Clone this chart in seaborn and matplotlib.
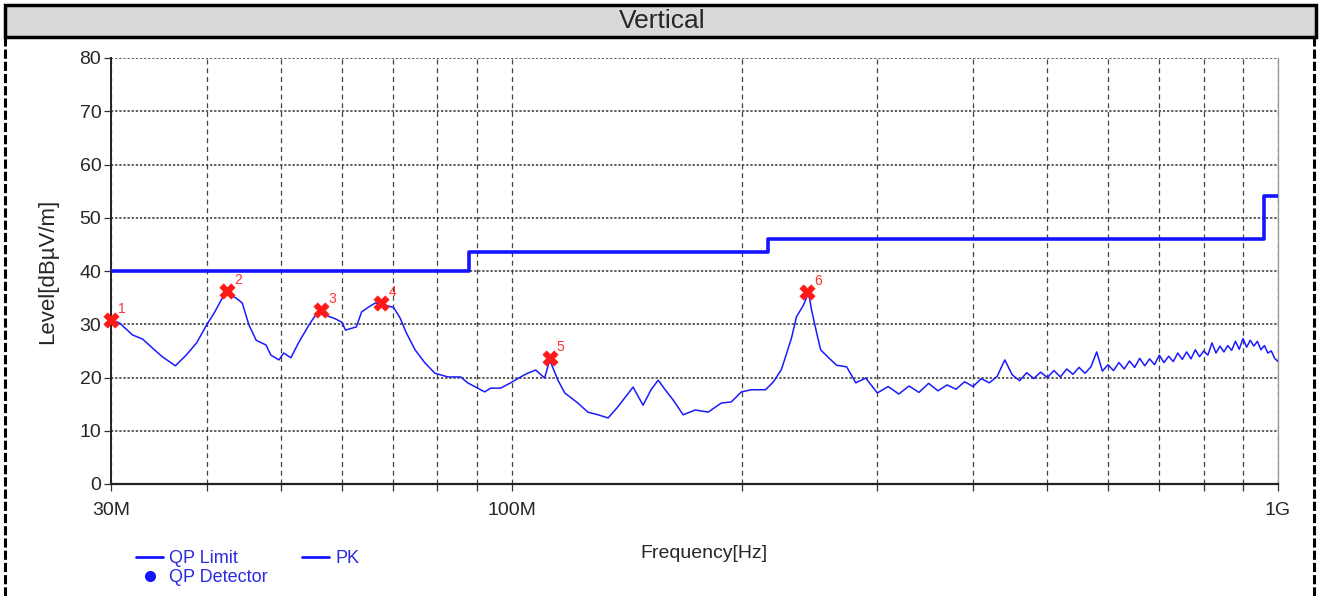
import numpy as np
import pandas as pd
import matplotlib
matplotlib.use('Agg')
import matplotlib.pyplot as plt
from matplotlib import font_manager
from matplotlib.lines import Line2D
from matplotlib.patches import Rectangle
import seaborn as sns

# PK trace, frequency in MHz and level in dBuV/m
pk_freq = [30.1, 30.8, 32.0, 33.0, 34.0, 35.0, 36.4, 37.6, 38.8, 40.0,
           40.9, 41.9, 42.5, 43.7, 44.5, 45.4, 46.4, 47.8, 48.5, 49.7,
           50.4, 51.5, 52.7, 54.4, 55.7, 57.2, 58.9, 60.0, 60.7, 62.7,
           63.7, 65.0, 66.4, 68.0, 70.1, 71.5, 72.8, 74.8, 77.1, 79.4,
           82.6, 85.8, 87.6, 90.3, 92.2, 93.9, 96.7, 99.7, 102.7, 104.9,
           107.5, 110.4, 112.1, 114.9, 117.3, 122.0, 125.7, 129.6, 133.6, 137.6,
           144.0, 148.4, 152.0, 155.3, 158.6, 162.4, 167.4, 173.6, 180.5, 187.7,
           193.4, 199.4, 205.5, 214.4, 219.6, 224.9, 231.8, 235.3, 240.3, 244.0,
           246.2, 250.0, 253.0, 259.2, 265.5, 273.6, 281.2, 289.7,
           300, 310, 320, 330, 340, 350, 360, 370, 380, 390,
           400, 410, 420, 430, 440, 450, 460, 470, 480, 490,
           500, 510, 520, 530, 540, 550, 560, 570, 580, 590,
           600, 610, 620, 630, 640, 650, 660, 670, 680, 690,
           700, 710, 720, 730, 740, 750, 760, 770, 780, 790,
           800, 810, 820, 830, 840, 850, 860, 870, 880, 890,
           900, 910, 920, 930, 940, 950, 960, 970, 980, 990,
           1000]
pk_level = [30.8, 30.2, 28.0, 27.2, 25.5, 23.9, 22.2, 24.2, 26.5, 29.9,
            32.1, 34.9, 35.9, 34.9, 34.0, 29.9, 27.0, 26.1, 24.2, 23.3,
            24.6, 23.7, 26.5, 29.9, 32.1, 31.7, 31.0, 30.4, 28.9, 29.5,
            32.3, 33.2, 34.0, 33.6, 33.2, 31.2, 28.5, 25.2, 22.7, 20.8,
            20.1, 20.1, 19.0, 18.0, 17.3, 18.0, 18.0, 19.0, 20.1, 20.8,
            21.4, 19.9, 23.3, 19.5, 17.1, 15.2, 13.5, 13.0, 12.4, 14.5,
            18.2, 14.8, 17.7, 19.5, 17.7, 15.8, 13.0, 13.9, 13.5, 15.2,
            15.4, 17.3, 17.7, 17.7, 19.2, 21.5, 27.4, 31.4, 33.6, 35.9,
            32.7, 28.4, 25.2, 23.7, 22.3, 22.0, 19.0, 19.9,
            17.1, 18.3, 16.9, 18.4, 17.2, 18.9, 17.5, 18.6, 17.8, 19.2,
            18.3, 19.8, 19.0, 20.2, 23.3, 20.5, 19.4, 20.9, 19.8, 21.0,
            20.0, 21.3, 20.1, 21.6, 20.6, 21.9, 20.8, 22.0, 24.8, 21.2,
            22.4, 21.3, 22.8, 21.6, 23.1, 21.9, 23.6, 22.2, 23.5, 22.4,
            24.2, 22.8, 24.0, 23.0, 24.6, 23.4, 24.8, 23.5, 25.2, 23.9,
            25.0, 24.2, 26.5, 24.6, 25.9, 24.8, 26.0, 25.1, 26.8, 25.3,
            27.3, 25.7, 27.0, 25.9, 26.8, 25.2, 26.0, 24.6, 25.0, 23.6,
            23.0]

# QP limit (FCC class B, 3 m)
limit_edges = [30, 88, 216, 960, 1000]
limit_levels = [40.0, 43.5, 46.0, 54.0, 54.0]

# marked peaks
peak_no = ['1', '2', '3', '4', '5', '6']
peak_freq = [30.0, 42.5, 56.4, 67.6, 112.1, 243.0]
peak_level = [30.8, 36.2, 32.7, 34.0, 23.7, 36.1]

W, H = 1324, 596
sns.set_style('white')
plt.rcParams['font.family'] = ['Liberation Sans', 'DejaVu Sans']

have_narrow = any(f.name == 'Liberation Sans Narrow' for f in font_manager.fontManager.ttflist)
if have_narrow:
    txt_font = ['Liberation Sans Narrow', 'DejaVu Sans']
    tick_fs, lab_fs, ylab_fs, leg_fs = 17, 17, 19, 16
else:
    txt_font = ['Liberation Sans', 'DejaVu Sans']
    tick_fs, lab_fs, ylab_fs, leg_fs = 14, 14, 16, 13

fig = plt.figure(figsize=(W / 100, H / 100), dpi=100)
ax = fig.add_axes([111 / W, 1 - 484 / H, (1278 - 111) / W, (484 - 58) / H])

trace = pd.DataFrame({'f': pk_freq, 'lvl': pk_level})
sns.lineplot(data=trace, x='f', y='lvl', ax=ax, color='#1a1aff', lw=1.1,
             estimator=None, sort=False, zorder=3)
sns.lineplot(x=limit_edges, y=limit_levels, ax=ax, color='#1414ff', lw=2.6,
             drawstyle='steps-post', estimator=None, sort=False, zorder=4)
sns.scatterplot(x=peak_freq, y=peak_level, ax=ax, marker='X', s=120,
                color='#ff1a1a', edgecolor='#ff1a1a', linewidth=0.5, zorder=6,
                clip_on=False)
for n, f, l in zip(peak_no, peak_freq, peak_level):
    ax.annotate(n, (f, l), xytext=(5, 3), textcoords='offset points',
                color='#ff3030', fontsize=10, ha='left', va='bottom', zorder=7,
                family=txt_font)

ax.set_xscale('log')
ax.set_xlim(30, 1000)
ax.set_ylim(0, 80)
ax.set_xticks([30, 100, 1000])
ax.set_xticklabels(['30M', '100M', '1G'])
ax.set_xticks([40, 50, 60, 70, 80, 90, 200, 300, 400, 500, 600, 700, 800, 900], minor=True)
ax.xaxis.set_minor_formatter(matplotlib.ticker.NullFormatter())
ax.set_yticks(range(0, 81, 10))

ax.grid(True, which='both', axis='x', color='#444444', ls=(0, (4, 3)), lw=0.9)
ax.grid(True, which='major', axis='y', color='#333333', ls=(0, (1.5, 1.2)), lw=1.1)
ax.tick_params(axis='x', which='both', direction='out', length=5, width=0.9,
               color='#333333', pad=8, labelsize=tick_fs, bottom=True)
ax.tick_params(axis='y', direction='out', length=5, width=0.9, color='#333333',
               pad=2, labelsize=tick_fs, left=True)
for t in ax.get_xticklabels() + ax.get_yticklabels():
    t.set_family(txt_font)

ax.spines['top'].set_visible(False)
ax.spines['right'].set_color('#999999')
ax.spines['right'].set_linewidth(1.0)
ax.spines['left'].set_color('#222222')
ax.spines['bottom'].set_color('#222222')
ax.spines['left'].set_linewidth(1.4)
ax.spines['bottom'].set_linewidth(1.6)

ax.set_xlabel('Frequency[Hz]', fontsize=lab_fs, family=txt_font)
ax.set_ylabel('Level[dBµV/m]', fontsize=ylab_fs, family=txt_font)
ax.xaxis.set_label_coords(0.508, -0.143)
ax.yaxis.set_label_coords(-0.045, 0.5)

# legend below the plot
handles = [Line2D([], [], color='#1414ff', lw=2),
           Line2D([], [], color='#1414ff', marker='o', ls='none', ms=7),
           Line2D([], [], color='#1414ff', lw=2)]
leg = fig.legend(handles, ['QP Limit', 'QP Detector', 'PK'], ncol=2,
                 loc='upper left', bbox_to_anchor=(127 / W, 1 - 541 / H),
                 frameon=False, labelcolor='#2a2ae0',
                 prop={'family': txt_font, 'size': leg_fs},
                 handlelength=1.5, handletextpad=0.35, columnspacing=1.9,
                 labelspacing=0.1, borderpad=0)

# title band and page frame
fig.patches.append(Rectangle((5 / W, 1 - 37 / H), (1316 - 5) / W, 32 / H,
                             transform=fig.transFigure, facecolor='#d9d9d9',
                             edgecolor='black', lw=2.5, zorder=0))
fig.text(662 / W, 1 - 21 / H, 'Vertical', ha='center', va='center', fontsize=19)
fig.add_artist(Line2D([5 / W, 5 / W], [0, 1 - 37 / H], transform=fig.transFigure,
                      color='black', lw=2.2, ls=(0, (3, 1))))
fig.add_artist(Line2D([1314 / W, 1314 / W], [0, 1 - 37 / H], transform=fig.transFigure,
                      color='black', lw=2.2, ls=(0, (3, 1))))

fig.savefig('out.png', dpi=100)
